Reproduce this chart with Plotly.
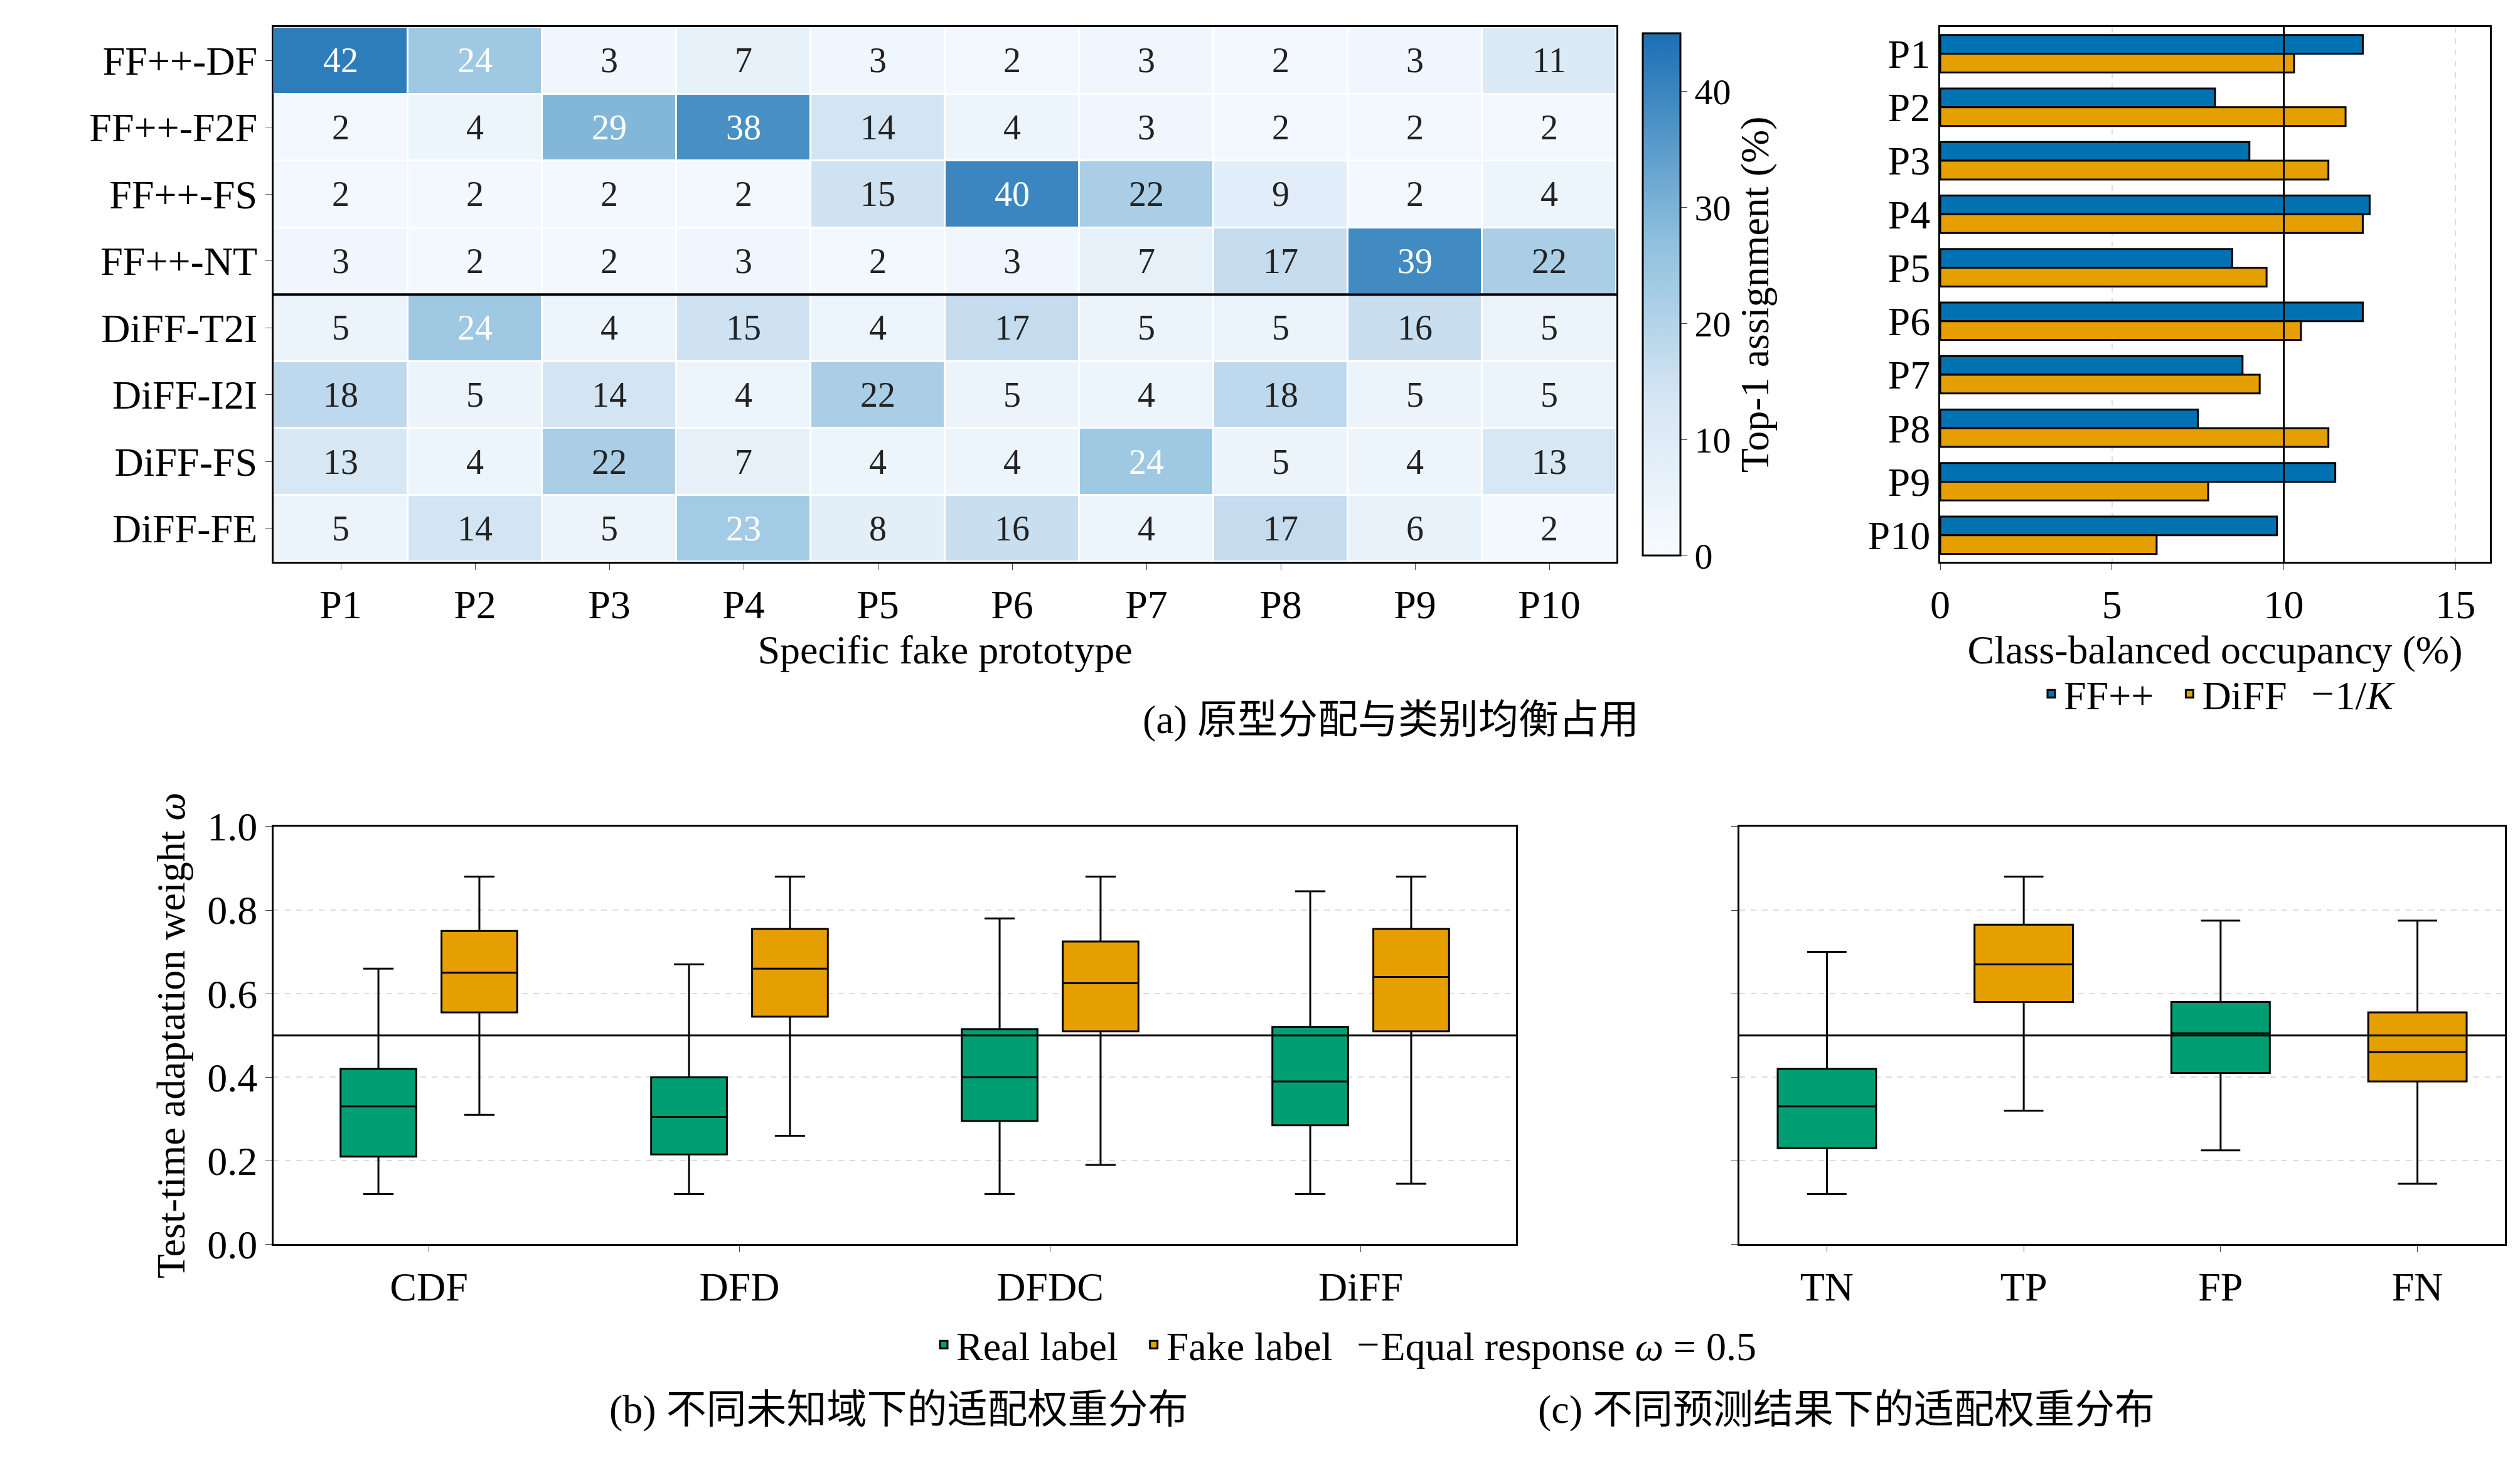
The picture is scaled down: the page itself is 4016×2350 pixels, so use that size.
import plotly.graph_objects as go

# ---- data ----
protos = ["P1", "P2", "P3", "P4", "P5", "P6", "P7", "P8", "P9", "P10"]
sources = ["FF++-DF", "FF++-F2F", "FF++-FS", "FF++-NT",
           "DiFF-T2I", "DiFF-I2I", "DiFF-FS", "DiFF-FE"]
assign = [
    [42, 24, 3, 7, 3, 2, 3, 2, 3, 11],
    [2, 4, 29, 38, 14, 4, 3, 2, 2, 2],
    [2, 2, 2, 2, 15, 40, 22, 9, 2, 4],
    [3, 2, 2, 3, 2, 3, 7, 17, 39, 22],
    [5, 24, 4, 15, 4, 17, 5, 5, 16, 5],
    [18, 5, 14, 4, 22, 5, 4, 18, 5, 5],
    [13, 4, 22, 7, 4, 4, 24, 5, 4, 13],
    [5, 14, 5, 23, 8, 16, 4, 17, 6, 2],
]
occ_ffpp = [12.3, 8.0, 9.0, 12.5, 8.5, 12.3, 8.8, 7.5, 11.5, 9.8]
occ_diff = [10.3, 11.8, 11.3, 12.3, 9.5, 10.5, 9.3, 11.3, 7.8, 6.3]

domains = ["CDF", "DFD", "DFDC", "DiFF"]
# lower fence, q1, median, q3, upper fence
real_stats = [[0.12, 0.21, 0.33, 0.42, 0.66],
              [0.12, 0.215, 0.305, 0.40, 0.67],
              [0.12, 0.295, 0.40, 0.515, 0.78],
              [0.12, 0.285, 0.39, 0.52, 0.845]]
fake_stats = [[0.31, 0.555, 0.65, 0.75, 0.88],
              [0.26, 0.545, 0.66, 0.755, 0.88],
              [0.19, 0.51, 0.625, 0.725, 0.88],
              [0.145, 0.51, 0.64, 0.755, 0.88]]
outcomes = ["TN", "TP", "FP", "FN"]
outcome_stats = [[0.12, 0.23, 0.33, 0.42, 0.70],
                 [0.32, 0.58, 0.67, 0.765, 0.88],
                 [0.225, 0.41, 0.505, 0.58, 0.775],
                 [0.145, 0.39, 0.46, 0.555, 0.775]]
outcome_is_real = [True, False, True, False]

BLUE = "#0072B2"
ORANGE = "#E69F00"
GREEN = "#009E73"
FONT = "Liberation Serif"
FS = 64

fig = go.Figure()

# ---- (a) heatmap ----
fig.add_trace(go.Heatmap(
    z=assign, x=protos, y=sources,
    colorscale=[[0, "#f7fbff"], [0.3, "#d6e6f4"], [0.6, "#8fc0de"], [1, "#1a6fb4"]],
    zmin=0, zmax=45, xgap=3, ygap=3, xaxis="x", yaxis="y",
    colorbar=dict(x=0.646, xanchor="left", y=0.626, yanchor="bottom", len=0.374,
                  lenmode="fraction", thickness=60, outlinewidth=3, outlinecolor="black",
                  tickvals=[0, 10, 20, 30, 40], ticks="outside", ticklen=10,
                  tickfont=dict(size=FS - 6, family=FONT),
                  title=dict(text="Top-1 assignment (%)", side="right",
                             font=dict(size=FS, family=FONT))),
))
for i, row in enumerate(assign):
    for j, v in enumerate(row):
        fig.add_annotation(x=protos[j], y=sources[i], xref="x", yref="y", text=str(v),
                           showarrow=False,
                           font=dict(size=FS - 8, family=FONT,
                                     color="white" if v >= 23 else "#222"))

# ---- (a) occupancy bars ----
fig.add_trace(go.Bar(y=protos, x=occ_ffpp, orientation="h", name="FF++  ",
                     marker=dict(color=BLUE, line=dict(color="black", width=3)),
                     xaxis="x2", yaxis="y2", legend="legend"))
fig.add_trace(go.Bar(y=protos, x=occ_diff, orientation="h", name="DiFF  ",
                     marker=dict(color=ORANGE, line=dict(color="black", width=3)),
                     xaxis="x2", yaxis="y2", legend="legend"))
fig.add_trace(go.Scatter(x=[10, 10], y=[-0.5, 9.5], mode="lines", name="1/<i>K</i>",
                         line=dict(color="black", width=3), xaxis="x2", yaxis="y5",
                         legend="legend"))


def add_box(name, xcat, s, color, xa, ya, show, group):
    fig.add_trace(go.Box(
        x=[xcat], lowerfence=[s[0]], q1=[s[1]], median=[s[2]], q3=[s[3]], upperfence=[s[4]],
        name=name, legendgroup=name, showlegend=show, fillcolor=color,
        line=dict(color="black", width=3), whiskerwidth=0.4,
        xaxis=xa, yaxis=ya, legend="legend2", offsetgroup=group))


# ---- (b) domains ----
for k, d in enumerate(domains):
    add_box("Real label  ", d, real_stats[k], GREEN, "x3", "y3", k == 0, "real")
    add_box("Fake label  ", d, fake_stats[k], ORANGE, "x3", "y3", k == 0, "fake")
fig.add_trace(go.Scatter(x=[None], y=[None], mode="lines", name="Equal response <i>ω</i> = 0.5",
                         line=dict(color="black", width=3), xaxis="x3", yaxis="y3",
                         legend="legend2"))

# ---- (c) outcomes ----
for k, o in enumerate(outcomes):
    s = outcome_stats[k]
    fig.add_trace(go.Box(
        x=[o], lowerfence=[s[0]], q1=[s[1]], median=[s[2]], q3=[s[3]], upperfence=[s[4]],
        fillcolor=GREEN if outcome_is_real[k] else ORANGE, showlegend=False,
        line=dict(color="black", width=3), whiskerwidth=0.4, width=0.5,
        xaxis="x4", yaxis="y4", offsetgroup="c"))

ax_common = dict(showline=True, linecolor="black", linewidth=3, mirror=True,
                 tickfont=dict(size=FS, family=FONT), ticks="outside", ticklen=10,
                 zeroline=False)
box_axes = dict(ax_common, range=[0, 1.0], showgrid=True, gridcolor="#dddddd", griddash="dash",
                gridwidth=2, tickvals=[0, 0.2, 0.4, 0.6, 0.8, 1.0], tickformat=".1f")

fig.update_layout(
    width=4016, height=2350, plot_bgcolor="white", paper_bgcolor="white",
    margin=dict(l=0, r=0, t=0, b=0),
    font=dict(family=FONT, size=FS, color="black"),
    boxmode="group", boxgap=0.35, boxgroupgap=0.25,
    barmode="group", bargap=0.3, bargroupgap=0,
    xaxis=dict(ax_common, domain=[0.103, 0.638], anchor="y",
               title=dict(text="Specific fake prototype", font=dict(size=FS, family=FONT))),
    yaxis=dict(ax_common, domain=[0.626, 1.0], anchor="x", autorange="reversed"),
    xaxis2=dict(ax_common, domain=[0.767, 0.986], anchor="y2", range=[0, 16],
                tickvals=[0, 5, 10, 15],
                showgrid=True, gridcolor="#dddddd", griddash="dash", gridwidth=2,
                title=dict(text="Class-balanced occupancy (%)", font=dict(size=FS, family=FONT))),
    yaxis2=dict(ax_common, domain=[0.626, 1.0], anchor="x2", autorange="reversed", ticks=""),
    yaxis5=dict(overlaying="y2", anchor="x2", range=[9.5, -0.5], visible=False),
    xaxis3=dict(ax_common, domain=[0.103, 0.598], anchor="y3"),
    yaxis3=dict(box_axes, domain=[0.149, 0.441], anchor="x3",
                title=dict(text="Test-time adaptation weight <i>ω</i>",
                           font=dict(size=FS, family=FONT))),
    xaxis4=dict(ax_common, domain=[0.687, 0.992], anchor="y4"),
    yaxis4=dict(box_axes, domain=[0.149, 0.441], anchor="x4", showticklabels=False),
    legend=dict(orientation="h", x=0.878, xanchor="center", y=0.555, yanchor="top",
                font=dict(size=FS, family=FONT), bgcolor="rgba(0,0,0,0)"),
    legend2=dict(orientation="h", x=0.53, xanchor="center", y=0.1, yanchor="top",
                 font=dict(size=FS, family=FONT), bgcolor="rgba(0,0,0,0)"),
)

# separator between FF++ and DiFF rows, equal response lines
fig.add_shape(type="line", xref="x domain", yref="y", x0=0, x1=1, y0=3.5, y1=3.5,
              line=dict(color="black", width=4))
for xr, yr in [("x3 domain", "y3"), ("x4 domain", "y4")]:
    fig.add_shape(type="line", xref=xr, yref=yr, x0=0, x1=1, y0=0.5, y1=0.5,
                  line=dict(color="black", width=3))

cap = dict(size=FS, family="Liberation Serif, Noto Sans CJK SC")
fig.add_annotation(x=0.548, y=0.516, xref="paper", yref="paper", showarrow=False,
                   text="(a) 原型分配与类别均衡占用", font=cap)
fig.add_annotation(x=0.352, y=0.017, xref="paper", yref="paper", showarrow=False,
                   text="(b) 不同未知域下的适配权重分布", font=cap)
fig.add_annotation(x=0.853, y=0.017, xref="paper", yref="paper", showarrow=False,
                   text="(c) 不同预测结果下的适配权重分布", font=cap)

fig.write_html("out.html")
